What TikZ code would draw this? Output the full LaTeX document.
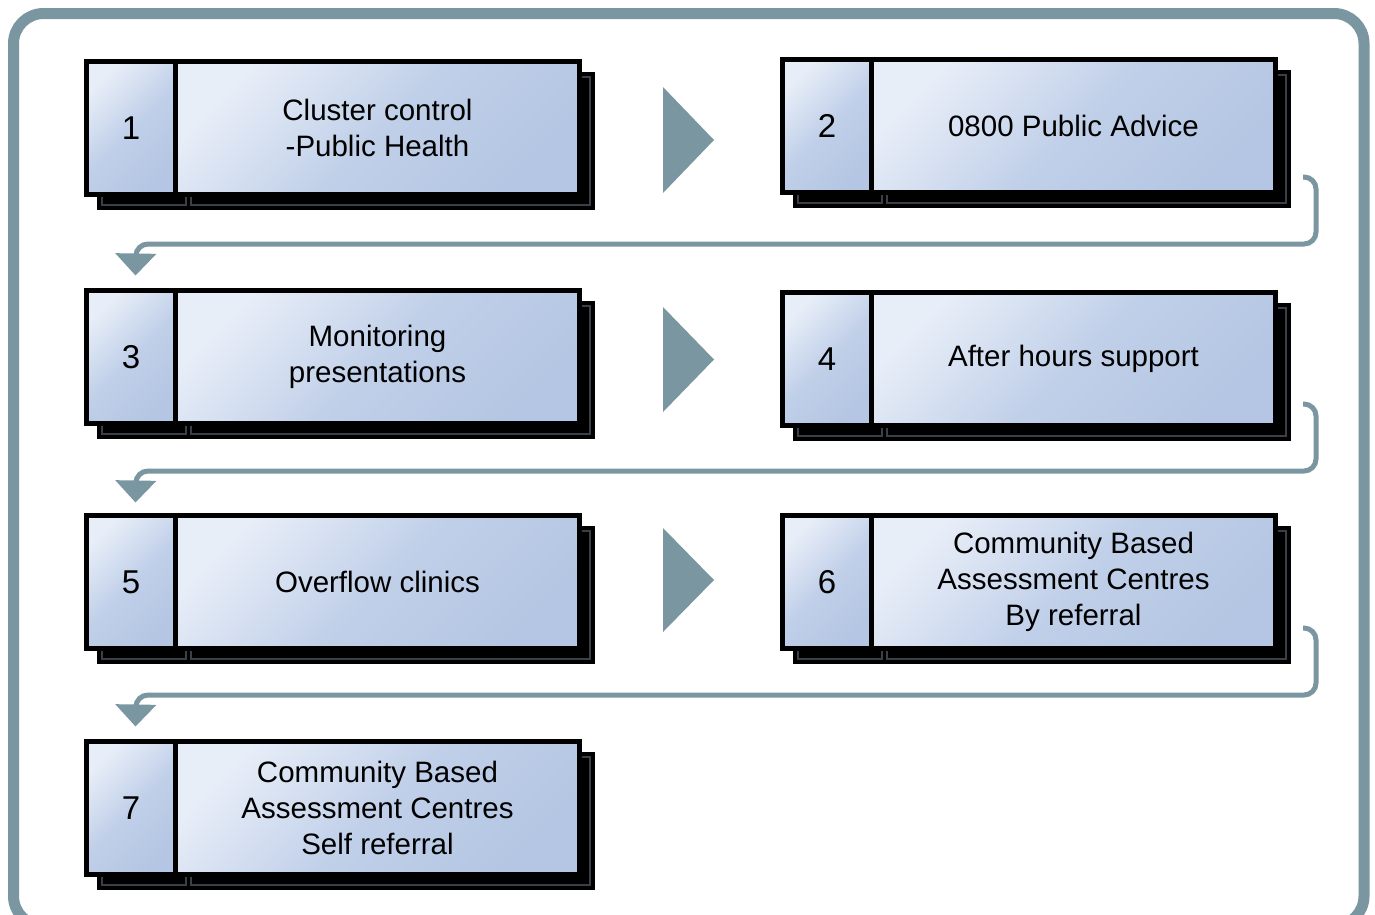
\documentclass[tikz,border=0pt]{standalone}
\usepackage{fontspec}
\setmainfont{Liberation Sans}
\usetikzlibrary{arrows.meta}
\definecolor{framecol}{HTML}{7A96A0}
\definecolor{boxlight}{HTML}{E8EEF8}
\definecolor{boxmid}{HTML}{C1D0E9}
\definecolor{boxdark}{HTML}{B4C6E3}
\definecolor{shadowline}{HTML}{3B4048}

% One numbered stage: shadow, number cell n<id>, label cell t<id>
\newcommand\stageblock[5]{%
  \begin{scope}[shift={(#2,#3)}]
    \draw[shadowcell] (13,13) rectangle ++(89,133);
    \draw[shadowcell] (102,13) rectangle ++(404,133);
    \draw[shadowedge] (15.5,15.5) rectangle (99.5,143.5);
    \draw[shadowedge] (104.5,15.5) rectangle (503.5,143.5);
    \node[numcell] (n#1) at (0,0) {#4};
    \node[textcell] (t#1) at (89,0) {#5};
  \end{scope}}

\begin{document}
\begin{tikzpicture}[x=1pt,y=-1pt,
  shadowcell/.style={fill=black, draw=black, line width=5pt},
  shadowedge/.style={draw=shadowline, line width=1.2pt},
  cellbase/.style={draw=black, line width=5pt, inner sep=0pt, outer sep=0pt,
    anchor=north west, minimum height=133pt,
    top color=boxlight, bottom color=boxdark, middle color=boxmid, shading angle=45},
  numcell/.style={cellbase, minimum width=89pt, font=\fontsize{33}{36}\selectfont},
  textcell/.style={cellbase, minimum width=404pt, align=center,
    font=\fontsize{29.5}{36}\selectfont},
  conn/.style={draw=framecol, line width=5pt, rounded corners=12pt,
    -{Triangle[length=22pt,width=40pt]}},
  nexttri/.style={fill=framecol}]
\useasboundingbox (0,0) rectangle (1375,914);
\clip (0,0) rectangle (1375,914);

% outer frame
\draw[framecol, line width=11pt, rounded corners=30pt] (13.5,13.5) rectangle (1364,926);

% stages
\stageblock{1}{86.5}{61.5}{1}{Cluster control\\-Public Health}
\stageblock{2}{782.5}{59.5}{2}{0800 Public Advice}
\stageblock{3}{86.5}{290.5}{3}{Monitoring\\presentations}
\stageblock{4}{782.5}{292.5}{4}{After hours support}
\stageblock{5}{86.5}{515.5}{5}{Overflow clinics}
\stageblock{6}{782.5}{515.5}{6}{Community Based\\Assessment Centres\\By referral}
\stageblock{7}{86.5}{741.5}{7}{Community Based\\Assessment Centres\\Self referral}

% arrows between the two columns
\fill[nexttri] (663,87) -- (714,140) -- (663,193) -- cycle;
\fill[nexttri] (663,307) -- (714,359.5) -- (663,412) -- cycle;
\fill[nexttri] (663,528) -- (714,580) -- (663,632) -- cycle;

% return connectors to the next row
\coordinate (s2) at (1303,177);
\coordinate (h2) at (136,244);
\coordinate (e3) at (135.5,275.5);
\coordinate (s4) at (1303,404);
\coordinate (h4) at (136,471);
\coordinate (e5) at (135.5,502.5);
\coordinate (s6) at (1303,628);
\coordinate (h6) at (136,695);
\coordinate (e7) at (135.5,726.5);

\draw[conn] (s2) -- ++(13,0) |- (h2) -- (e3);
\draw[conn] (s4) -- ++(13,0) |- (h4) -- (e5);
\draw[conn] (s6) -- ++(13,0) |- (h6) -- (e7);
\end{tikzpicture}
\end{document}
